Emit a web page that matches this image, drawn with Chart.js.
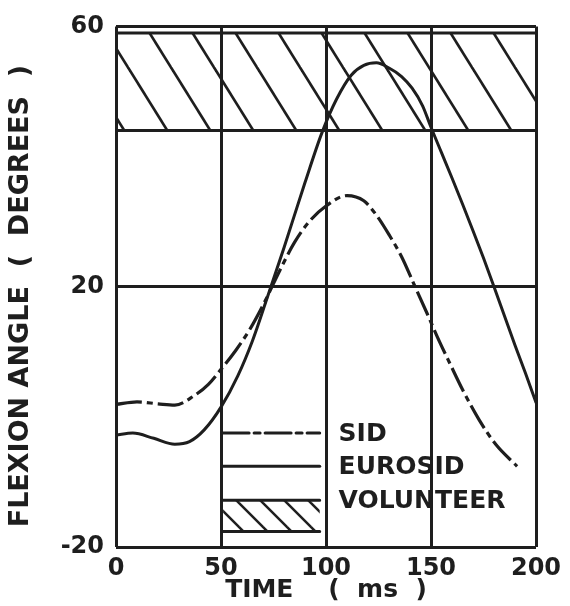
<!DOCTYPE html>
<html>
<head>
<meta charset="utf-8">
<script src="https://cdn.jsdelivr.net/npm/chart.js@4"></script>
<style>
    body { margin: 0; background: #fff; }
</style>
</head>
<body>
<canvas id="myChart" width="570" height="606"></canvas>
<script>
// axis ticks
const xTicks = [0, 50, 100, 150, 200]
const yTicks = [-20, 20, 60]

// SID (dash-dot curve)
const sidTime = [0, 10, 20, 28, 37, 44, 50, 57, 64, 71, 78, 85, 92, 100, 110, 118, 124, 130, 136, 142, 148, 153, 159, 165, 173, 181, 191]
const sidAngle = [1.9, 2.3, 2.0, 1.8, 3.2, 5.0, 7.3, 10.2, 13.6, 17.8, 22.5, 26.8, 30, 32.4, 34, 33.2, 31, 28, 24.6, 20.3, 16, 12.3, 8.2, 4.2, -0.5, -4.3, -7.6]

// EUROSID (solid curve)
const euroTime = [0, 8, 18, 28, 35, 42, 50, 58, 65, 72, 80, 90, 98, 105, 112, 118, 124, 130, 136, 141, 146, 150, 155, 160, 165, 170, 175, 180, 185, 190, 195, 200]
const euroAngle = [-2.8, -2.5, -3.3, -4.2, -3.8, -2.0, 1.5, 6.3, 11.7, 18.3, 26, 36, 43.6, 48.8, 52.5, 54, 54.4, 53.6, 52.3, 50.5, 47.8, 44.5, 40.6, 36.7, 32.7, 28.6, 24.4, 20, 15.5, 11, 6.7, 2.2]

// volunteer corridor (hatched band)
const volunteerTime = [0, 200]
const volunteerHigh = [59, 59]
const volunteerLow = [44, 44]

const ink = '#1e1e1e'
const plotFont = { family: '"DejaVu Sans", sans-serif', weight: 'bold', size: 24 }

function toPoints(xs, ys) {
    return xs.map((x, i) => ({ x: x, y: ys[i] }))
}

function MakeHatch(step, slope, width) {
    let c = document.createElement('canvas')
    let w = step, h = Math.round(step * slope)
    c.width = w
    c.height = h
    let g = c.getContext('2d')
    g.strokeStyle = ink
    g.lineWidth = width
    for (let dx of [-w, 0, w]) {
        g.beginPath()
        g.moveTo(dx - w, -h)
        g.lineTo(dx + 2 * w, 2 * h)
        g.stroke()
    }
    return g.createPattern(c, 'repeat')
}

// legend drawn inside the plot, like the original figure
const insideLegend = {
    id: 'insideLegend',
    afterDatasetsDraw(chart, args, opts) {
        const ctx = chart.ctx
        const xs = chart.scales.x, ys = chart.scales.y
        const x0 = xs.getPixelForValue(opts.from)
        const x1 = xs.getPixelForValue(opts.to)
        const tx = xs.getPixelForValue(opts.textAt)
        const sets = chart.data.datasets
        ctx.save()
        ctx.lineCap = 'round'
        ctx.strokeStyle = ink
        ctx.lineWidth = 3
        ctx.font = 'bold 25px "DejaVu Sans", sans-serif'
        ctx.fillStyle = ink
        ctx.textBaseline = 'middle'
        opts.rows.forEach(row => {
            const ds = sets[row.dataset]
            const y = ys.getPixelForValue(row.at)
            if (row.box !== undefined) {
                const yb = ys.getPixelForValue(row.box)
                ctx.fillStyle = opts.boxFill
                ctx.fillRect(x0, y, x1 - x0, yb - y)
                ctx.fillStyle = ink
                ctx.beginPath()
                ctx.moveTo(x0, y); ctx.lineTo(x1, y)
                ctx.moveTo(x0, yb); ctx.lineTo(x1, yb)
                ctx.stroke()
            } else {
                ctx.setLineDash(ds.borderDash || [])
                ctx.beginPath()
                ctx.moveTo(x0, y)
                ctx.lineTo(x1, y)
                ctx.stroke()
                ctx.setLineDash([])
            }
            ctx.fillText(ds.label, tx, y + 1)
        })
        ctx.restore()
    }
}

function BuildChart() {
    const hatch = MakeHatch(43, 1.6, 2.7)
    const smallHatch = MakeHatch(24, 1.0, 2.5)
    const ctx = document.getElementById('myChart')
    return new Chart(ctx, {
        type: 'line',
        data: {
            datasets: [
                {
                    label: 'VOLUNTEER',
                    data: toPoints(volunteerTime, volunteerHigh),
                    borderColor: ink, borderWidth: 3, pointRadius: 0, fill: false
                },
                {
                    label: 'VOLUNTEER',
                    data: toPoints(volunteerTime, volunteerLow),
                    borderColor: ink, borderWidth: 3, pointRadius: 0,
                    fill: '-1', backgroundColor: hatch
                },
                {
                    label: 'EUROSID',
                    data: toPoints(euroTime, euroAngle),
                    borderColor: ink, borderWidth: 3, pointRadius: 0,
                    cubicInterpolationMode: 'monotone', borderCapStyle: 'round', fill: false
                },
                {
                    label: 'SID',
                    data: toPoints(sidTime, sidAngle),
                    borderColor: ink, borderWidth: 3.2, pointRadius: 0,
                    borderDash: [26, 5, 6, 5],
                    cubicInterpolationMode: 'monotone', fill: false
                }
            ]
        },
        options: {
            responsive: false,
            animation: false,
            devicePixelRatio: 1,
            layout: { padding: { left: 0, top: 17, right: 34, bottom: 0 } },
            plugins: {
                legend: { display: false },
                tooltip: { enabled: false },
                insideLegend: {
                    from: 51, to: 97, textAt: 106,
                    boxFill: smallHatch,
                    rows: [
                        { dataset: 3, at: -2.5 },
                        { dataset: 2, at: -7.6 },
                        { dataset: 0, at: -12.8, box: -17.6 }
                    ]
                }
            },
            scales: {
                x: {
                    type: 'linear', min: 0, max: 200,
                    afterBuildTicks: s => { s.ticks = xTicks.map(v => ({ value: v })) },
                    afterFit: s => { s.height = 59 },
                    grid: { color: ink, lineWidth: 3, drawTicks: false },
                    border: { display: false },
                    ticks: { color: ink, font: plotFont, padding: 7, maxRotation: 0 },
                    title: {
                        display: true, text: 'TIME    (  ms  )', color: ink,
                        font: { family: '"DejaVu Sans", sans-serif', weight: 'bold', size: 25 },
                        padding: { top: 0, bottom: 1 }
                    }
                },
                y: {
                    type: 'linear', min: -20, max: 60,
                    afterBuildTicks: s => { s.ticks = yTicks.map(v => ({ value: v })) },
                    afterFit: s => { s.width = 116 },
                    grid: { color: ink, lineWidth: 3, drawTicks: false },
                    border: { display: false },
                    ticks: { color: ink, font: plotFont, padding: 12 },
                    title: {
                        display: true, text: 'FLEXION ANGLE  (  DEGREES  )  ', color: ink,
                        font: { family: '"DejaVu Sans", sans-serif', weight: 'bold', size: 27 },
                        padding: { top: 5, bottom: 0 }
                    }
                }
            }
        },
        plugins: [insideLegend]
    })
}

BuildChart()
</script>
</body>
</html>
